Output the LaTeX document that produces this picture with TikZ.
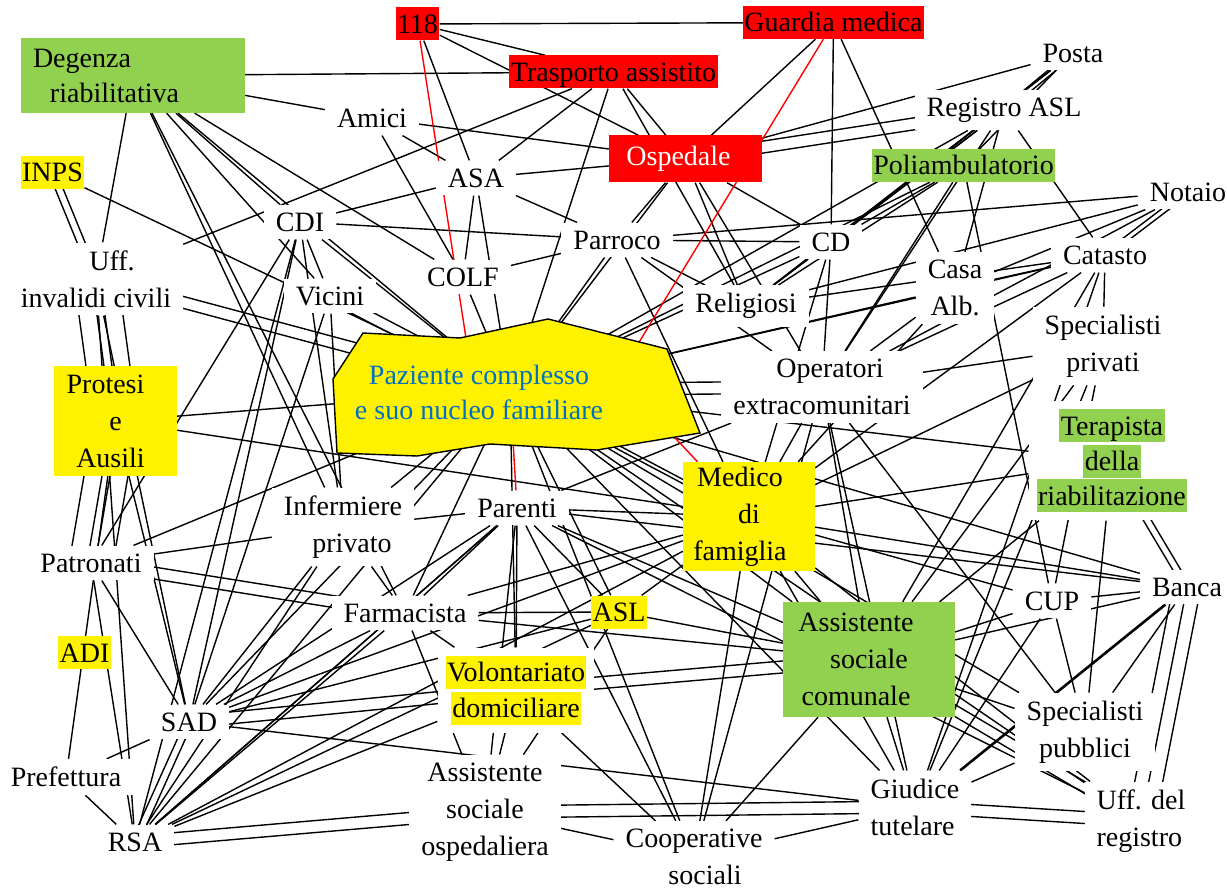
\documentclass[tikz,border=0pt]{standalone}
\usepackage{fontspec}
\setmainfont{Liberation Serif}
\definecolor{gr}{HTML}{92D050}
\definecolor{pazblue}{HTML}{0070C0}
\newcommand{\fs}{\fontsize{28}{37}\selectfont}
\newcommand{\hlb}[2]{{\setlength{\fboxsep}{0pt}\colorbox{#1}{\rule[-7pt]{0pt}{33pt}\hspace{1.5pt}#2\hspace{1.5pt}}}}
\pgfdeclarelayer{bg}
\pgfdeclarelayer{edges}
\pgfsetlayers{bg,edges,main}
\tikzset{
  ln/.style={line width=1.4pt, black},
  rl/.style={line width=1.4pt, red},
  lbl/.style={fill=white, inner xsep=12pt, inner ysep=8pt, align=center, font=\fs},
  cbox/.style={fill=#1, inner xsep=1.5pt, inner ysep=0pt, text height=26pt, text depth=7pt, font=\fs},
  bigbox/.style={fill=#1, inner sep=0pt, align=center, font=\fs},
}
\begin{document}
\begin{tikzpicture}[x=1pt,y=-1pt]
\useasboundingbox (0,0) rectangle (1227,890);
\begin{pgfonlayer}{bg}
\fill[white] (0,0) rectangle (1227,890);
\end{pgfonlayer}
% central polygon
\coordinate (paz) at (510,390);
\filldraw[fill=yellow, draw=black, line width=1.4pt] (363,333) -- (460,338) -- (548,319) -- (667,349) -- (700,433) -- (597,450) -- (490,444) -- (417,456) -- (337,453) -- (333,379) -- cycle;
\node[font=\fontsize{28}{35}\selectfont, text=pazblue, align=center] (paztext) at (479,392) {Paziente complesso\\e suo nucleo familiare};
% nodes
\node[cbox=red] (n118) at (417.5,24) {118};
\node[cbox=red] (guardia) at (833.5,22.5) {Guardia medica};
\node[lbl] (posta) at (1073,53) {Posta};
\node[bigbox=gr, minimum width=224, minimum height=75, text width=200, align=left] (degenza) at (133,75.5) {Degenza\\[-2pt]\hspace*{17pt}riabilitativa};
\node[cbox=red] (trasporto) at (613.5,72) {Trasporto assistito};
\node[lbl] (amici) at (372,118) {Amici};
\node[lbl] (registro) at (1004,110) {Registro ASL};
\node[bigbox=red, minimum width=153, minimum height=47, text=white] (ospedale) at (685.5,159) {Ospedale\hspace*{14pt}};
\node[cbox=yellow] (inps) at (52.5,172.5) {INPS};
\node[lbl] (asa) at (476,178) {ASA};
\node[cbox=gr] (poli) at (963.5,165.5) {Poliambulatorio};
\node[lbl] (notaio) at (1188,192) {Notaio};
\node[lbl] (cdi) at (300,222) {CDI};
\node[lbl] (parroco) at (617,240) {Parroco};
\node[lbl] (cd) at (831,242) {CD};
\node[lbl] (uff) at (96,279) {\hspace*{32pt}Uff.\\invalidi civili};
\node[lbl] (catasto) at (1105,255) {Catasto};
\node[lbl] (casa) at (955,288) {Casa\\Alb.};
\node[lbl] (colf) at (463,277) {COLF};
\node[lbl] (vicini) at (330,296) {Vicini};
\node[lbl] (religiosi) at (746,306) {Religiosi};
\node[lbl] (specpriv) at (1103,346) {Specialisti\\privati};
\node[lbl] (operatori) at (822,387) {\hspace*{16pt}Operatori\\extracomunitari};
\node[bigbox=yellow, minimum width=123, minimum height=110] (protesi) at (115.5,421) {Protesi\hspace*{20pt}\\e\\Ausili\hspace*{10pt}};
\node[lbl, inner sep=8pt] (terapista) at (1112,461) {\hlb{gr}{Terapista}\\[-2pt]\hlb{gr}{della}\\[-2pt]\hlb{gr}{riabilitazione}};
\node[bigbox=yellow, minimum width=132, minimum height=109] (medico) at (749,516.5) {Medico\hspace*{18pt}\\di\hspace*{18pt}\\famiglia\hspace*{18pt}};
\node[lbl] (infermiere) at (343,527) {Infermiere\\\hspace*{18pt}privato};
\node[lbl] (parenti) at (517,508) {Parenti};
\node[lbl] (patronati) at (91,563) {Patronati};
\node[lbl] (banca) at (1187,587) {Banca};
\node[lbl] (cup) at (1052,601) {CUP};
\node[lbl] (farmacista) at (405,613) {Farmacista};
\node[cbox=yellow] (asl) at (619,612) {ASL};
\node[bigbox=gr, minimum width=172, minimum height=115] (ascom) at (869,659.5) {Assistente\hspace*{26pt}\\sociale\hspace*{26pt}\\comunale\hspace*{26pt}};
\node[cbox=yellow] (adi) at (84.5,652.5) {ADI};
\node[lbl, inner sep=8pt] (volont) at (516,690) {\hlb{yellow}{Volontariato}\\[-1pt]\hlb{yellow}{domiciliare}};
\node[lbl] (sad) at (189,722) {SAD};
\node[lbl] (specpub) at (1085,732) {Specialisti\\pubblici};
\node[lbl] (prefettura) at (66,777) {Prefettura};
\node[lbl] (asosp) at (485,812) {Assistente\\sociale\\ospedaliera};
\node[lbl, align=left] (giudice) at (915,807) {Giudice\\tutelare};
\node[lbl, align=left] (uffreg) at (1141,821) {Uff. del\\registro};
\node[lbl] (rsa) at (135,842) {RSA};
\node[lbl] (coop) at (694,857) {Cooperative\\\hspace*{22pt}sociali};
% connectors
\begin{pgfonlayer}{edges}
\foreach \a/\b in {n118/guardia, n118/trasporto, n118/ospedale, n118/asa,
  degenza/trasporto, degenza/amici, degenza/uff, degenza/vicini, degenza/infermiere, degenza/colf, degenza/paz, degenza/farmacista, degenza/cdi,
  amici/ospedale, amici/asa, amici/colf,
  trasporto/asa, trasporto/ospedale, trasporto/paz, trasporto/religiosi, uff/trasporto,
  asa/ospedale, asa/parroco, asa/colf, asa/paz,
  cdi/asa, cdi/parroco, cdi/vicini, cdi/paz, cdi/infermiere, cdi/patronati, cdi/sad, cdi/rsa,
  inps/paz, colf/paz, colf/parroco,
  parroco/paz, parroco/religiosi, parroco/cd, parroco/ospedale, parroco/notaio, parroco/operatori, parroco/medico,
  ospedale/religiosi, ospedale/posta, ospedale/paz, ospedale/operatori, ospedale/cd,
  guardia/ospedale, guardia/cd, guardia/casa,
  posta/cd, posta/religiosi, posta/poli,
  registro/cd, registro/casa, registro/religiosi, registro/operatori, registro/paz, registro/catasto,
  poli/religiosi, poli/operatori, poli/cd, poli/cup, poli/paz,
  notaio/operatori, notaio/casa, notaio/religiosi,
  catasto/operatori, catasto/casa, catasto/religiosi, catasto/medico, catasto/paz, catasto/ascom, catasto/giudice, catasto/specpriv,
  cd/religiosi, cd/operatori, cd/paz, cd/medico,
  casa/paz, casa/operatori, casa/medico,
  specpriv/operatori, specpriv/medico, specpriv/ascom, specpriv/giudice, specpriv/cup,
  operatori/medico, operatori/ascom, operatori/giudice, operatori/coop, operatori/parenti, operatori/specpub,
  terapista/medico, terapista/paz, terapista/ascom, terapista/specpub,
  medico/parenti, medico/banca, medico/farmacista, medico/asl, medico/ascom, medico/giudice, medico/uffreg, medico/cup, medico/sad, medico/protesi, medico/rsa,
  paz/infermiere, paz/farmacista, paz/asl, paz/ascom, paz/volont, paz/sad, paz/patronati, paz/rsa, paz/coop, paz/giudice, paz/banca, paz/protesi, paz/specpub, paz/uffreg,
  parenti/infermiere, parenti/farmacista, parenti/asl, parenti/ascom, parenti/volont, parenti/sad, parenti/coop, parenti/uffreg, parenti/rsa, parenti/banca,
  infermiere/vicini, infermiere/patronati, infermiere/farmacista, infermiere/sad, infermiere/rsa,
  farmacista/sad, farmacista/asl, farmacista/rsa, farmacista/asosp, farmacista/volont,
  patronati/sad, patronati/rsa,
  prefettura/protesi, prefettura/sad, prefettura/rsa,
  sad/giudice, sad/asl, sad/protesi, sad/uff, sad/vicini,
  rsa/parenti, rsa/asl, rsa/volont,
  asosp/volont, asosp/asl, asosp/parenti, asosp/coop,
  coop/ascom, coop/volont, coop/medico, coop/giudice,
  ascom/cup, ascom/giudice, ascom/specpub, ascom/asl, ascom/farmacista, ascom/banca,
  giudice/specpub, giudice/cup, banca/cup, banca/specpub, cup/specpub, uff/rsa}
  {\draw[ln] (\a) -- (\b);}
% doubled connectors, vertical-ish
\foreach \a/\b in {inps/uff, uff/protesi, protesi/patronati, sad/rsa, posta/registro, notaio/catasto, banca/terapista, medico/paz}
  {\draw[ln] ([xshift=-4pt]\a.center) -- ([xshift=-4pt]\b.center);
   \draw[ln] ([xshift=4pt]\a.center) -- ([xshift=4pt]\b.center);}
\foreach \a/\b in {uff/protesi, protesi/patronati}
  {\draw[ln] ([xshift=-22pt]\a.center) -- ([xshift=-22pt]\b.center);
   \draw[ln] ([xshift=22pt]\a.center) -- ([xshift=22pt]\b.center);}
% doubled connectors, horizontal-ish
\foreach \a/\b in {uff/paz, vicini/paz, sad/volont, rsa/asosp, asosp/giudice, giudice/uffreg, ascom/uffreg, ascom/volont, registro/ospedale, farmacista/patronati, operatori/paz}
  {\draw[ln] ([yshift=-6pt]\a.center) -- ([yshift=-6pt]\b.center);
   \draw[ln] ([yshift=6pt]\a.center) -- ([yshift=6pt]\b.center);}
% tripled
\foreach \s in {-14,0,14}
  {\draw[ln] ([xshift=\s pt]banca.center) -- ([xshift=\s pt]uffreg.center);}
\draw[line width=2.6pt] (giudice) -- (banca);
% red connectors
\draw[rl] (n118) -- ([xshift=-36pt]paz.center);
\draw[rl] (guardia) -- ([xshift=100pt]paz.center);
\draw[rl] ([xshift=120pt]paz.center) -- (medico);
\draw[rl] (paz) -- (parenti);
\end{pgfonlayer}
\end{tikzpicture}
\end{document}
